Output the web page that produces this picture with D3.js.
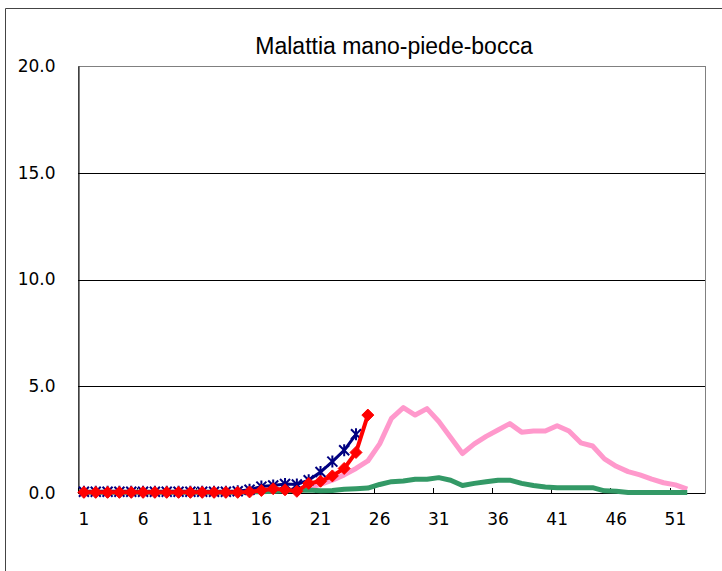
<!DOCTYPE html>
<html><head><meta charset="utf-8">
<script src="https://cdn.jsdelivr.net/npm/d3@7"></script>
<style>html,body{margin:0;padding:0;background:#fff;}svg{display:block;}</style>
</head><body>
<svg id="chart" width="722" height="571"></svg>
<script>
const title = "Malattia mano-piede-bocca";
const weeks = d3.range(1, 54);
const xTickLabels = [1, 6, 11, 16, 21, 26, 31, 36, 41, 46, 51];
const yTicks = [0, 5, 10, 15, 20];

const pinkValues = [0.05,0.05,0.05,0.05,0.05,0.05,0.05,0.05,0.05,0.05,0.05,0.05,0.05,0.05,0.06,0.08,0.1,0.12,0.18,0.25,0.4,0.6,0.85,1.15,1.5,2.3,3.5,4.0,3.65,3.95,3.35,2.6,1.85,2.3,2.65,2.95,3.25,2.85,2.9,2.9,3.15,2.9,2.35,2.2,1.6,1.25,1.0,0.85,0.65,0.48,0.38,0.18];
const greenValues = [0.04,0.04,0.04,0.04,0.04,0.04,0.04,0.04,0.04,0.04,0.04,0.04,0.04,0.04,0.05,0.06,0.08,0.1,0.12,0.14,0.1,0.12,0.18,0.2,0.23,0.4,0.53,0.56,0.64,0.64,0.72,0.6,0.35,0.45,0.53,0.6,0.6,0.45,0.35,0.28,0.25,0.25,0.25,0.25,0.1,0.08,0.02,0.02,0.02,0.02,0.02,0.02];
const navyValues = [0.06,0.06,0.06,0.06,0.06,0.06,0.06,0.06,0.06,0.06,0.06,0.06,0.06,0.08,0.15,0.3,0.35,0.42,0.4,0.6,0.98,1.47,2.0,2.75];
const redValues = [0.03,0.03,0.03,0.03,0.03,0.03,0.03,0.03,0.03,0.03,0.03,0.03,0.03,0.03,0.05,0.12,0.2,0.15,0.08,0.45,0.55,0.8,1.15,1.9,3.65];

const svg = d3.select("#chart");
const pLeft = 78, pRight = 705, pTop = 66, pBottom = 493;

const x = d3.scaleBand().domain(weeks).range([pLeft, pRight]).paddingInner(0).paddingOuter(0);
const y = d3.scaleLinear().domain([0, 20]).range([pBottom, pTop]);
const cx = w => x(w) + x.bandwidth() / 2;

// outer chart border
svg.append("path").attr("d", "M5.5,571 L5.5,8.5 L722,8.5").attr("fill", "none").attr("stroke", "#444").attr("stroke-width", 1);

// title
svg.append("text").attr("x", 394).attr("y", 54).attr("text-anchor", "middle")
  .attr("font-family", "Liberation Sans, Arial, sans-serif").attr("font-size", 23)
  .attr("fill", "#000").text(title);

// plot border
svg.append("rect").attr("x", pLeft + 0.5).attr("y", pTop + 0.5).attr("width", pRight - pLeft).attr("height", pBottom - pTop)
  .attr("fill", "none").attr("stroke", "#808080").attr("stroke-width", 1);

// gridlines
svg.append("g").selectAll("line").data(yTicks.filter(v => v > 0 && v < 20)).join("line")
  .attr("x1", pLeft).attr("x2", pRight).attr("y1", d => Math.round(y(d)) + 0.5).attr("y2", d => Math.round(y(d)) + 0.5)
  .attr("stroke", "#000").attr("stroke-width", 1);

// y axis
const yAxis = svg.append("g").attr("transform", `translate(${pLeft + 0.5},0)`)
  .call(d3.axisLeft(y).tickValues(yTicks).tickFormat(d3.format(".1f")).tickSize(0).tickPadding(23));
yAxis.select(".domain").attr("stroke", "#000");
yAxis.selectAll("text").attr("font-family", "DejaVu Sans, sans-serif").attr("font-size", 17).attr("fill", "#000");

// x axis
const xAxis = svg.append("g").attr("transform", `translate(0,${pBottom + 0.5})`)
  .call(d3.axisBottom(x).tickValues(xTickLabels).tickSize(0).tickPadding(19));
xAxis.select(".domain").attr("stroke", "#000").attr("d", `M${pLeft},0H${pRight}`);
xAxis.selectAll("text").attr("font-family", "DejaVu Sans, sans-serif").attr("font-size", 17).attr("fill", "#000");
// inside tick marks at category boundaries
svg.append("g").selectAll("line").data(xTickLabels).join("line")
  .attr("x1", d => Math.round(x(d)) + 0.5).attr("x2", d => Math.round(x(d)) + 0.5)
  .attr("y1", pBottom).attr("y2", pBottom - 5).attr("stroke", "#000");

const line = d3.line().x(d => cx(d.w)).y(d => y(d.v));
const toPts = arr => arr.map((v, i) => ({ w: weeks[i], v }));

svg.append("path").datum(toPts(pinkValues)).attr("d", line).attr("fill", "none")
  .attr("stroke", "#ff99cc").attr("stroke-width", 5).attr("stroke-linejoin", "round");
svg.append("path").datum(toPts(greenValues)).attr("d", line).attr("fill", "none")
  .attr("stroke", "#339966").attr("stroke-width", 5).attr("stroke-linejoin", "round");

// navy with asterisk markers
const navyPts = toPts(navyValues);
svg.append("path").datum(navyPts).attr("d", line).attr("fill", "none")
  .attr("stroke", "#000080").attr("stroke-width", 3);
const r = 5;
svg.append("g").selectAll("path").data(navyPts).join("path")
  .attr("transform", d => `translate(${cx(d.w)},${y(d.v)})`)
  .attr("d", `M${-r},${-r}L${r},${r}M${r},${-r}L${-r},${r}M0,${-r - 1}L0,${r + 1}`)
  .attr("stroke", "#000080").attr("stroke-width", 2).attr("fill", "none");

// red with diamond markers
const redPts = toPts(redValues);
svg.append("path").datum(redPts).attr("d", line).attr("fill", "none")
  .attr("stroke", "#ff0000").attr("stroke-width", 4).attr("stroke-linejoin", "round");
const dr = 6;
svg.append("g").selectAll("path").data(redPts).join("path")
  .attr("transform", d => `translate(${cx(d.w)},${y(d.v)})`)
  .attr("d", `M0,${-dr}L${dr},0L0,${dr}L${-dr},0Z`)
  .attr("fill", "#ff0000").attr("stroke", "#ff0000").attr("stroke-width", 1);
</script>
</body></html>
